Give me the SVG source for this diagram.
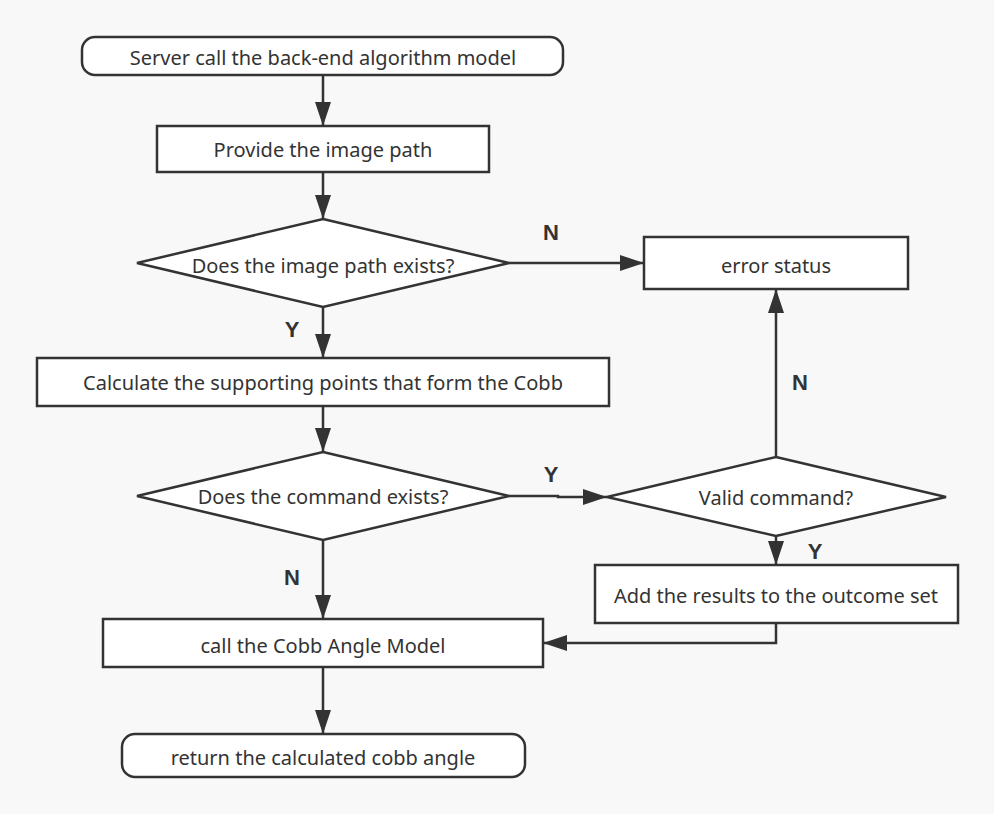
<svg xmlns="http://www.w3.org/2000/svg" width="994" height="814" viewBox="0 0 994 814">
<style>
.shape{fill:#ffffff;stroke:#333333;stroke-width:2.5}
.t{font-family:"Noto Sans","Open Sans",sans-serif;font-size:20px;fill:#333333;text-anchor:middle}
.lbl{font-family:"Liberation Sans",Arial,sans-serif;font-size:22px;font-weight:bold;fill:#333333;text-anchor:middle}
.c{fill:none;stroke:#333333;stroke-width:2.5;marker-end:url(#arr)}
</style>
<defs>
<marker id="arr" markerUnits="userSpaceOnUse" markerWidth="24" markerHeight="16" refX="24" refY="8" orient="auto">
<path d="M0,0 L24,8 L0,16 z" fill="#333333"/>
</marker>
</defs>
<rect x="0" y="0" width="994" height="814" fill="#f8f8f8"/>
<g id="connectors">
<path class="c" d="M323,75 V126"/>
<path class="c" d="M323,172 V219"/>
<path class="c" d="M509,263 H644"/>
<path class="c" d="M323,307 V358"/>
<path class="c" d="M323,406 V452"/>
<path class="c" d="M509,496 H558 V497 H607"/>
<path class="c" d="M776,457 V289"/>
<path class="c" d="M776,536 V565"/>
<path class="c" d="M776,623 V643 H543"/>
<path class="c" d="M323,540 V619"/>
<path class="c" d="M323,667 V734"/>
<text class="lbl" x="551" y="240">N</text>
<text class="lbl" x="292" y="337">Y</text>
<text class="lbl" x="800" y="390">N</text>
<text class="lbl" x="551" y="482">Y</text>
<text class="lbl" x="815" y="559">Y</text>
<text class="lbl" x="292" y="585">N</text>
</g>
<g id="start">
<rect class="shape" x="82" y="37" width="481" height="38" rx="13" ry="13"/>
<text class="t" x="323" y="65">Server call the back-end algorithm model</text>
</g>
<g id="provide">
<rect class="shape" x="157" y="126" width="332" height="46"/>
<text class="t" x="323" y="157">Provide the image path</text>
</g>
<g id="decision-path">
<polygon class="shape" points="323,219 509,263 323,307 137,263"/>
<text class="t" x="323" y="273">Does the image path exists?</text>
</g>
<g id="error">
<rect class="shape" x="644" y="237" width="264" height="52"/>
<text class="t" x="776" y="273">error status</text>
</g>
<g id="calculate">
<rect class="shape" x="37" y="358" width="572" height="48"/>
<text class="t" x="323" y="390">Calculate the supporting points that form the Cobb</text>
</g>
<g id="decision-command">
<polygon class="shape" points="323,452 509,496 323,540 137,496"/>
<text class="t" x="323" y="504">Does the command exists?</text>
</g>
<g id="decision-valid">
<polygon class="shape" points="776,457 946,497 776,536 607,497"/>
<text class="t" x="776" y="505">Valid command?</text>
</g>
<g id="add">
<rect class="shape" x="595" y="565" width="363" height="58"/>
<text class="t" x="776" y="603">Add the results to the outcome set</text>
</g>
<g id="call">
<rect class="shape" x="103" y="619" width="440" height="48"/>
<text class="t" x="323" y="653">call the Cobb Angle Model</text>
</g>
<g id="end">
<rect class="shape" x="122" y="734" width="403" height="43" rx="13" ry="13"/>
<text class="t" x="323" y="765">return the calculated cobb angle</text>
</g>
</svg>
